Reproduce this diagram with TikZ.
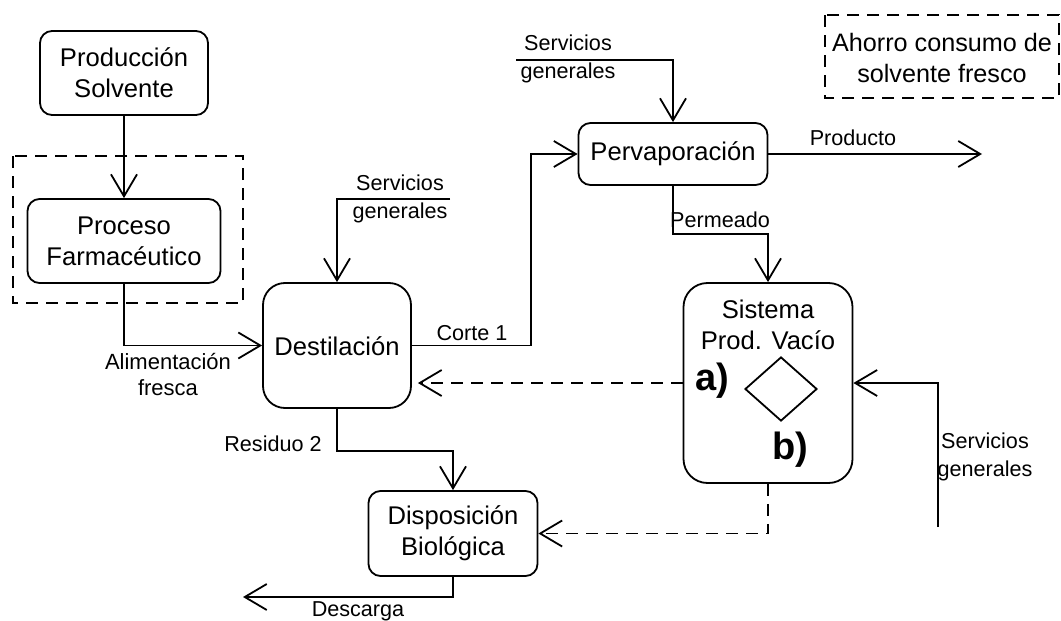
\documentclass[tikz,border=0pt]{standalone}
\usepackage{fontspec}
\setmainfont{Liberation Sans}
\usetikzlibrary{positioning}
\usetikzlibrary{shapes.geometric}
\usetikzlibrary{arrows.meta}

\tikzset{
    unitbox/.style={draw, line width=0.9pt, rounded corners=6pt, align=center,
        font=\fontsize{12.8}{15.5}\selectfont, inner sep=0pt},
    flow/.style={line width=0.9pt, -{Straight Barb[length=11pt,width=13pt,line width=0.9pt]}},
    tag/.style={align=center, font=\fontsize{10.8}{14}\selectfont, inner sep=0pt},
    dashbox/.style={draw, line width=0.9pt, dash pattern=on 6pt off 4pt},
    dashflow/.style={flow, dash pattern=on 6pt off 4pt},
}

\begin{document}
\begin{tikzpicture}[x=0.5pt, y=-0.5pt]
    \useasboundingbox (0,0) rectangle (1061,621);

    % Boxes
    \node[unitbox, minimum width=84pt, minimum height=42pt] (prod) at (124,73) {Producción\\Solvente};
    \node[unitbox, minimum width=96.5pt, minimum height=42pt] (proc) at (124,241) {Proceso\\Farmacéutico};
    \draw[dashbox] (13,156) rectangle (243,303);
    \node[unitbox, rounded corners=11pt, minimum width=74pt, minimum height=62.5pt] (dest) at (337,345.5) {};
    \node[font=\fontsize{12.8}{15.5}\selectfont] at (337,346) {Destilación};
    \node[unitbox, minimum width=94.5pt, minimum height=31pt] (perv) at (673,154) {Pervaporación};
    \node[unitbox, rounded corners=12pt, minimum width=84.5pt, minimum height=100pt] (sist) at (768,383) {};
    \node[align=center, font=\fontsize{12.8}{15.5}\selectfont] (sisttxt) at (768,325) {Sistema\\Prod. Vacío};
    \node[draw, diamond, line width=0.9pt, minimum width=36pt, minimum height=32pt, inner sep=0pt] (vac) at (781,389) {};
    \node[font=\fontsize{19}{19}\selectfont\bfseries] (opa) at (712,381) {a)};
    \node[font=\fontsize{19}{19}\selectfont\bfseries] (opb) at (790,450) {b)};
    \node[unitbox, minimum width=84.5pt, minimum height=42.5pt] (disp) at (453,533.5) {Disposición\\Biológica};
    \draw[dashbox] (825,15) rectangle (1059,98);
    \node[align=center, font=\fontsize{12.6}{15.5}\selectfont] (ahorro) at (942,58) {Ahorro consumo de\\solvente fresco};

    % Free ends
    \coordinate (sgD) at (450,199);
    \coordinate (sgP) at (516,60);
    \coordinate (sgS) at (938,527);
    \coordinate (c1) at (531,154);
    \coordinate (pm) at (768,234);
    \coordinate (r2) at (453,451);
    \coordinate (out) at (982,154);
    \coordinate (dc) at (243,597);

    % Streams
    \draw[flow] (prod) -- (proc);
    \draw[flow] (proc.south) |- (dest.west);
    \node[tag, font=\fontsize{11}{13}\selectfont] at (168,375) {Alimentación\\fresca};
    \draw[flow] (sgD) -| (dest.north);
    \node[tag] at (400,199) {Servicios\\generales};
    \draw[flow] (dest.east) -| (c1) -- (perv.west);
    \node[tag] at (472,333) {Corte 1};
    \draw[flow] (sgP) -| (perv.north);
    \node[tag] at (568,59) {Servicios\\generales};
    \draw[flow] (perv.east) -- (out);
    \node[tag] at (853,138) {Producto};
    \draw[flow] (perv.south) |- (pm) -- (sist.north);
    \node[tag] at (720,220) {Permeado};
    \draw[dashflow, shorten >=3pt] (sist.west) -- (sist.west -| dest.east);
    \draw[flow] (sgS) |- (sist.east);
    \node[tag] at (985,457) {Servicios\\generales};
    \draw[dashflow] (sist.south) |- (disp.east);
    \draw[flow] (dest.south) |- (r2) -- (disp.north);
    \node[tag] at (273,444) {Residuo 2};
    \draw[flow] (disp.south) |- (dc);
    \node[tag] at (358,611) {Descarga};
\end{tikzpicture}
\end{document}
